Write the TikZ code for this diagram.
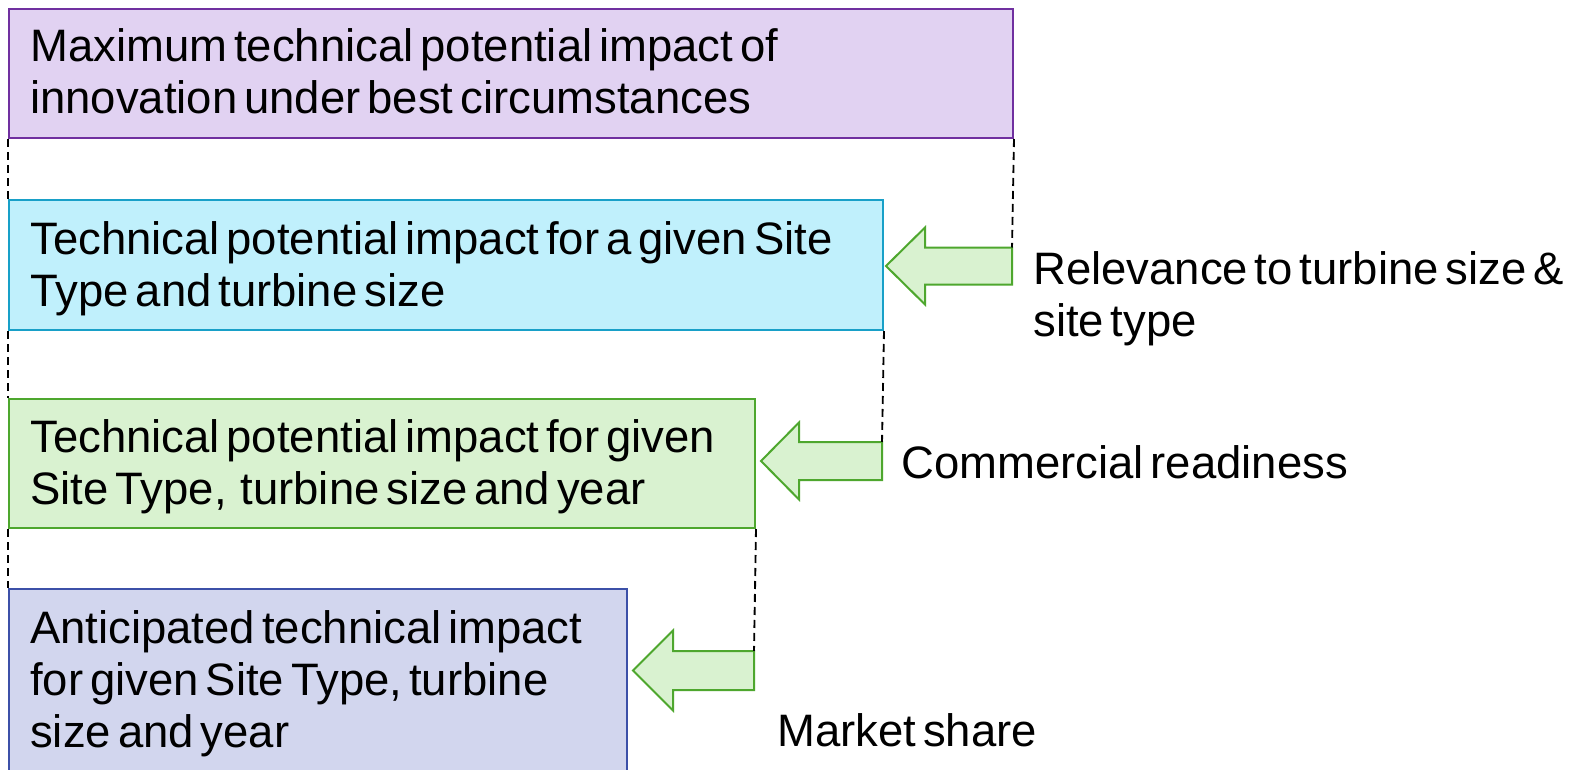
\documentclass[tikz,border=0pt]{standalone}
\usepackage{fontspec}
\setmainfont{Liberation Sans}[WordSpace=0.55]
\definecolor{purpfill}{RGB}{225,210,242}
\definecolor{purpline}{RGB}{112,48,160}
\definecolor{cyanfill}{RGB}{192,240,252}
\definecolor{cyanline}{RGB}{24,160,200}
\definecolor{grnfill}{RGB}{217,242,208}
\definecolor{grnline}{RGB}{78,167,46}
\definecolor{bluefill}{RGB}{210,214,238}
\definecolor{blueline}{RGB}{60,80,168}
\newcommand\txtlines[1]{\vtop{\baselineskip=39pt\lineskiplimit=-100pt\lineskip=0pt #1}}
\begin{document}
\begin{tikzpicture}[x=0.75pt,y=-0.75pt,
  boxnode/.style={rectangle, anchor=north west, inner sep=0pt, line width=1.5pt},
  txt/.style={inner sep=0pt, anchor=base west, font=\fontsize{34.1pt}{39pt}\selectfont},
  blockarrow/.style={draw=grnline, fill=grnfill, line width=1.5pt, line join=miter},
  dashline/.style={draw=black, line width=1.4pt, dash pattern=on 6pt off 3.75pt}]
\clip (0,0) rectangle (1580,770);
\fill[white] (0,0) rectangle (1580,770);

% boxes
\node[boxnode, draw=purpline, fill=purpfill, minimum width=1004*0.75pt, minimum height=129*0.75pt] (b1) at (8,8) {};
\node[boxnode, draw=cyanline, fill=cyanfill, minimum width=874*0.75pt, minimum height=130*0.75pt] (b2) at (8,199) {};
\node[boxnode, draw=grnline, fill=grnfill, minimum width=746*0.75pt, minimum height=129*0.75pt] (b3) at (8,398) {};
\node[boxnode, draw=blueline, fill=bluefill, minimum width=618*0.75pt, minimum height=200*0.75pt] (b4) at (8,588) {};

% box texts
\node[txt] (t1) at (30,62) {\txtlines{\hbox{Maximum technical potential impact of}\hbox{innovation under best circumstances}}};
\node[txt] (t2) at (30,254) {\txtlines{\hbox{Technical potential impact for a given Site}\hbox{Type and turbine size}}};
\node[txt] (t3) at (30,452) {\txtlines{\hbox{Technical potential impact for given}\hbox{Site Type,\ \ turbine size and year}}};
\node[txt] (t4) at (30,643) {\txtlines{\hbox{Anticipated technical impact}\hbox{for given Site Type, turbine}\hbox{size and year}}};

% block arrows
\draw[blockarrow] (886,266) -- (925,227.5) -- (925,247.5) -- (1012,247.5) coordinate (a1top) -- (1012,284.5) -- (925,284.5) -- (925,304.5) -- cycle;
\draw[blockarrow] (761,461) -- (799,422.5) -- (799,442) -- (882,442) coordinate (a2top) -- (882,480) -- (799,480) -- (799,499.5) -- cycle;
\draw[blockarrow] (633,670.5) -- (673,630.5) -- (673,651) -- (754,651) coordinate (a3top) -- (754,690) -- (673,690) -- (673,710.5) -- cycle;

% dashed guide lines
\draw[dashline] (b1.south west) -- (b2.north west);
\draw[dashline] (b2.south west) -- (b3.north west);
\draw[dashline] (b3.south west) -- (b4.north west);
\draw[dashline] (b1.south east) -- (a1top);
\draw[dashline] (b2.south east) -- (a2top);
\draw[dashline] (b3.south east) -- (a3top);

% side labels
\node[txt] (r1) at (1033,284) {\txtlines{\hbox{Relevance to turbine size \&}\hbox{site type}}};
\node[txt] (r2) at (901,478) {Commercial readiness};
\node[txt] (r3) at (777,746) {Market share};
\end{tikzpicture}
\end{document}
